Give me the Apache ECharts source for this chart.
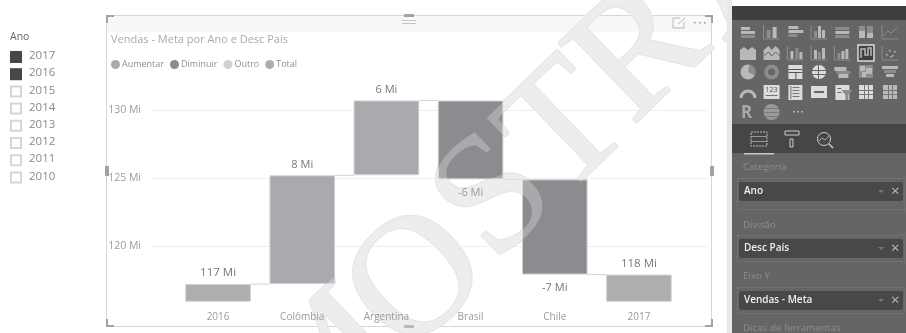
<!DOCTYPE html>
<html>
<head>
<meta charset="utf-8">
<style>html,body{margin:0;padding:0;background:#fff}#c{width:906px;height:333px}</style>
<script src="https://cdn.jsdelivr.net/npm/echarts@6/dist/echarts.min.js"></script>
</head>
<body>
<div id="c"></div>
<script>
// Waterfall data, in millions
const categories = ['2016', 'Colômbia', 'Argentina', 'Brasil', 'Chile', '2017'];
const totals = [117.2, null, null, null, null, 117.9];
const increases = [null, 8.0, 5.5, null, null, null];
const decreases = [null, null, null, 5.8, 7.0, null];
const axisFloor = 115.9;
const legendNames = ['Aumentar', 'Diminuir', 'Outro', 'Total'];
const sliceYears = ['2017', '2016', '2015', '2014', '2013', '2012', '2011', '2010'];
const checkedYears = ['2017', '2016'];
const paneFields = [['Categoria', 'Ano'], ['Divisão', 'Desc País'], ['Eixo Y', 'Vendas - Meta']];

const FONT = '"Open Sans", sans-serif';
const INC = '#a9aaad', DEC = '#8b8c8f', OTHER = '#d0d1d2', TOT = '#adaeb0', EDGE = '#d2d2d2';

// Running levels derived from the steps
const levels = [];
const bases = [];
let running = 0;
categories.forEach((_, i) => {
  if (totals[i] != null) { running = totals[i]; bases.push(axisFloor); }
  else if (increases[i] != null) { bases.push(running); running += increases[i]; }
  else { running -= decreases[i]; bases.push(running); }
  levels.push(running);
});
const toBar = arr => arr.map(v => v == null ? '-' : v);
const totalHeights = totals.map(v => v == null ? '-' : +(v - axisFloor).toFixed(2));
const mi = v => Math.round(v) + ' Mi';

const labelBase = { show: true, fontFamily: FONT, color: '#777', fontSize: 11, distance: 5 };
const itemStyle = c => ({ color: c, borderColor: EDGE, borderWidth: 1 });

const graphics = [];
const rect = (x, y, w, h, fill, z, extra) => graphics.push(Object.assign({
  type: 'rect', shape: { x, y, width: w, height: h }, style: { fill }, z: z, silent: true }, extra || {}));
const text = (x, y, t, size, fill, z, extra) => graphics.push({
  type: 'text', x, y, z: z, silent: true,
  style: Object.assign({ text: t, fontFamily: FONT, fontSize: size, fill, textVerticalAlign: 'middle' }, extra || {}) });
const stroke = (pts, col, z, w) => graphics.push({
  type: 'polyline', z: z, silent: true, shape: { points: pts }, style: { stroke: col, fill: null, lineWidth: w || 1 } });

// Year slicer
text(10, 37, 'Ano', 10.5, '#666', 5);
sliceYears.forEach((y, i) => {
  const cy = 57 + i * 17.2;
  if (checkedYears.includes(y)) rect(10, cy - 6, 12, 12, '#474747', 5);
  else graphics.push({ type: 'rect', z: 5, silent: true, shape: { x: 11, y: cy - 5, width: 10, height: 10 },
    style: { fill: '#fff', stroke: '#d6d6d6', lineWidth: 2 } });
  text(29, cy - 1, y, 11.5, '#8a8a8a', 5);
});

// Visual frame with its header band and handles
rect(107, 16, 605, 16, '#f8f8f8', 0);
graphics.push({ type: 'rect', z: 1, silent: true, shape: { x: 106.5, y: 15.5, width: 605, height: 311 },
  style: { fill: null, stroke: '#d6d6d6', lineWidth: 1 } });
const HANDLE = '#a3a3a3';
rect(106, 15, 8, 2, HANDLE, 6); rect(106, 15, 2, 8, HANDLE, 6);
rect(705, 15, 8, 2, HANDLE, 6); rect(711, 15, 2, 8, HANDLE, 6);
rect(106, 325, 8, 2, HANDLE, 6); rect(106, 319, 2, 8, HANDLE, 6);
rect(705, 325, 8, 2, HANDLE, 6); rect(711, 319, 2, 8, HANDLE, 6);
rect(105, 166, 4, 10, HANDLE, 6); rect(710, 166, 4, 10, HANDLE, 6);
rect(404, 14, 10, 3, HANDLE, 6); rect(404, 325, 10, 3, HANDLE, 6);
rect(402, 20, 14, 1, '#c4c4c4', 6); rect(402, 23, 14, 1, '#c4c4c4', 6);
stroke([[684, 22], [684, 28], [673, 28], [673, 18], [680, 18]], '#b8b8b8', 6);
stroke([[678, 24], [685, 18]], '#b8b8b8', 6);
[694, 699, 704].forEach(x => rect(x, 22, 1.6, 1.6, '#999', 6));

// Diagonal "AMOSTRA" stamp: a pale layer under the bars, thickened with small offset
// copies, and one translucent white copy above them so the dark bars lighten.
const stampLetters = [['M', 328, 375], ['O', 420, 283], ['S', 497, 200], ['T', 568, 132], ['R', 642, 55], ['A', 738, -32]];
const stampOffsets = [[0, 0], [1.4, 0], [-1.4, 0], [0, 1.4], [0, -1.4]];
const stampStyle = (ch, fill) => ({ text: ch, fontFamily: '"Liberation Serif", serif', fontSize: 170, fill,
  textAlign: 'center', textVerticalAlign: 'middle' });
stampLetters.forEach(([ch, x, y]) => {
  stampOffsets.forEach(([dx, dy]) => {
    graphics.push({ type: 'text', x: x + dx, y: y + dy, rotation: 44 * Math.PI / 180, z: 1, silent: true,
      style: stampStyle(ch, '#e7e7e7') });
  });
  graphics.push({ type: 'text', x, y, rotation: 44 * Math.PI / 180, z: 10, silent: true,
    style: stampStyle(ch, 'rgba(255,255,255,0.25)') });
});

// Field pane on the right
const P = 20;
rect(727, 0, 5, 333, '#e8e8e8', P);
rect(732, 0, 174, 333, '#656565', P);
rect(732, 0, 174, 6, '#ffffff', P);
rect(732, 6, 174, 14, '#3f3f3f', P);
rect(732, 124, 174, 29, '#464646', P);
rect(744, 153, 30, 1.5, '#c9c9c9', P + 1);

const cols = [748, 771.6, 795.4, 819, 842.4, 866, 890];
const rows = [32, 53, 72, 92, 112];
const L = '#b9b9b9', M = '#8c8c8c', W = '#dcdcdc';
const icon = (c, r, parts) => parts.forEach(([x, y, w, h, f]) => rect(cols[c] + x, rows[r] + y, w, h, f, P + 1));
const frame = (c, r, col) => { stroke([[cols[c] - 8, rows[r] - 7], [cols[c] - 8, rows[r] + 7], [cols[c] + 8, rows[r] + 7]], col || M, P + 1); };
// Row 1
icon(0, 0, [[-7, -5, 9, 3, L], [-7, -1, 14, 3, L], [-7, 3, 14, 3, M]]);
frame(1, 0); icon(1, 0, [[-5, -2, 4, 8, M], [1, -5, 4, 11, L]]);
icon(2, 0, [[-7, -6, 10, 3, L], [-7, -2, 15, 3, L], [-7, 2, 9, 3, M]]);
frame(3, 0); icon(3, 0, [[-5, -1, 3, 7, M], [-1, -6, 3, 12, L], [3, -2, 3, 8, L]]);
icon(4, 0, [[-7, -5, 14, 3, M], [-7, -1, 14, 3, L], [-7, 3, 14, 3, M]]);
icon(5, 0, [[-7, -6, 6, 12, M], [1, -6, 6, 12, M], [-7, -1, 6, 7, L], [1, 1, 6, 5, L]]);
frame(6, 0); stroke([[cols[6] - 7, rows[0] + 4], [cols[6] - 2, rows[0] - 1], [cols[6] + 1, rows[0] + 1], [cols[6] + 7, rows[0] - 4]], M, P + 1);
// Row 2
graphics.push({ type: 'polygon', z: P + 1, silent: true, shape: { points: [[cols[0] - 8, 60], [cols[0] - 8, 50], [cols[0] - 4, 47], [cols[0], 50], [cols[0] + 4, 47], [cols[0] + 8, 50], [cols[0] + 8, 60]] }, style: { fill: L } });
graphics.push({ type: 'polygon', z: P + 1, silent: true, shape: { points: [[cols[1] - 8, 60], [cols[1] - 8, 50], [cols[1] - 3, 46], [cols[1], 50], [cols[1] + 4, 46], [cols[1] + 8, 50], [cols[1] + 8, 60]] }, style: { fill: L } });
stroke([[cols[1] - 8, 56], [cols[1] - 3, 52], [cols[1], 56], [cols[1] + 4, 52], [cols[1] + 8, 56]], '#656565', P + 1);
frame(2, 1); icon(2, 1, [[-5, -2, 3, 8, L], [0, -5, 3, 11, M], [4, -1, 3, 7, L]]);
frame(3, 1); icon(3, 1, [[-5, -3, 3, 9, L], [-1, -1, 3, 7, M], [3, -5, 3, 11, L]]);
frame(4, 1); icon(4, 1, [[-5, 0, 3, 6, M], [-1, -2, 3, 8, L], [3, -4, 3, 10, L]]);
graphics.push({ type: 'rect', z: P + 1, silent: true, shape: { x: cols[5] - 8, y: rows[1] - 8, width: 16, height: 16 }, style: { fill: '#3f3f3f', stroke: W, lineWidth: 1.5 } });
stroke([[cols[5] - 5, rows[1] + 5], [cols[5] - 5, rows[1] - 4], [cols[5] - 1, rows[1] - 4], [cols[5] - 1, rows[1] + 2], [cols[5] + 2, rows[1] + 2], [cols[5] + 2, rows[1] - 5], [cols[5] + 5, rows[1] - 5], [cols[5] + 5, rows[1] + 3]], L, P + 2, 1.5);
frame(6, 1); [[-4, 1], [-1, -3], [2, 2], [4, -2], [0, 3]].forEach(([x, y]) => rect(cols[6] + x, rows[1] + y, 1.6, 1.6, L, P + 1));
// Row 3
graphics.push({ type: 'circle', z: P + 1, silent: true, shape: { cx: cols[0], cy: rows[2], r: 7.5 }, style: { fill: L } });
graphics.push({ type: 'sector', z: P + 2, silent: true, shape: { cx: cols[0], cy: rows[2], r: 7.5, startAngle: -1.4, endAngle: 0.5 }, style: { fill: M } });
graphics.push({ type: 'circle', z: P + 1, silent: true, shape: { cx: cols[1], cy: rows[2], r: 5.5 }, style: { fill: null, stroke: M, lineWidth: 4 } });
rect(cols[2] - 7, rows[2] - 7, 14, 14, W, P + 1); rect(cols[2] - 7, rows[2], 14, 1, '#555', P + 2); rect(cols[2], rows[2], 1, 7, '#555', P + 2); rect(cols[2] - 7, rows[2] - 3, 14, 1, '#555', P + 2);
graphics.push({ type: 'circle', z: P + 1, silent: true, shape: { cx: cols[3], cy: rows[2], r: 7 }, style: { fill: W } });
rect(cols[3] - 7, rows[2] - 2, 14, 1, '#666', P + 2); rect(cols[3] - 7, rows[2] + 2, 14, 1, '#666', P + 2); rect(cols[3] - 1, rows[2] - 7, 1, 14, '#666', P + 2);
icon(4, 2, [[-8, -5, 12, 4, L], [-6, -1, 14, 3, M], [-4, 2, 10, 4, L]]);
icon(5, 2, [[-7, -7, 14, 13, M], [-6, -6, 5, 5, L], [0, -4, 6, 6, L], [-4, 0, 4, 5, L]]);
icon(6, 2, [[-8, -6, 16, 3, L], [-6, -2, 12, 3, M], [-4, 2, 8, 3, L]]);
// Row 4
graphics.push({ type: 'arc', z: P + 1, silent: true, shape: { cx: cols[0], cy: rows[3] + 6, r: 7, startAngle: Math.PI, endAngle: 0 }, style: { stroke: L, fill: null, lineWidth: 3 } });
rect(cols[1] - 8, rows[3] - 7, 16, 14, W, P + 1); text(cols[1], rows[3] - 2, '123', 7, '#555', P + 2, { textAlign: 'center' }); rect(cols[1] - 6, rows[3] + 3, 12, 1, '#777', P + 2);
rect(cols[2] - 7, rows[3] - 7, 14, 15, W, P + 1); [-5, -2, 1, 4].forEach(d => rect(cols[2] - 3, rows[3] + d, 7, 1, '#777', P + 2)); rect(cols[2] - 5, rows[3] - 6, 1, 13, '#777', P + 2);
rect(cols[3] - 8, rows[3] - 6, 16, 12, W, P + 1); rect(cols[3] - 5, rows[3] - 1, 10, 2, '#666', P + 2);
rect(cols[4] - 7, rows[3] - 7, 14, 15, W, P + 1); rect(cols[4] - 5, rows[3] - 4, 4, 1, '#666', P + 2); rect(cols[4] - 5, rows[3], 4, 1, '#666', P + 2);
graphics.push({ type: 'polygon', z: P + 2, silent: true, shape: { points: [[cols[4] - 1, rows[3] - 2], [cols[4] + 10, rows[3] - 2], [cols[4] + 6, rows[3] + 3], [cols[4] + 6, rows[3] + 8], [cols[4] + 3, rows[3] + 8], [cols[4] + 3, rows[3] + 3]] }, style: { fill: M } });
[5, 6].forEach((c, k) => {
  rect(cols[c] - 7, rows[3] - 7, 14, 14, k ? L : W, P + 1);
  [-2, 2].forEach(d => { rect(cols[c] + d, rows[3] - 7, 1, 14, '#777', P + 2); rect(cols[c] - 7, rows[3] + d, 14, 1, '#777', P + 2); });
});
// Row 5
text(cols[0] - 7, rows[4] + 1, 'R', 17, '#a9a9a9', P + 1, { fontWeight: 'bold' });
graphics.push({ type: 'circle', z: P + 1, silent: true, shape: { cx: cols[1], cy: rows[4], r: 8 }, style: { fill: '#9a9a9a' } });
[-4, 0, 4].forEach(d => rect(cols[1] - 7, rows[4] + d, 14, 1, '#7a7a7a', P + 2));
[0, 4, 8].forEach(d => rect(cols[2] - 2 + d, rows[4] - 1, 1.6, 1.6, '#c4c4c4', P + 1));
// Tab icons
graphics.push({ type: 'rect', z: P + 1, silent: true, shape: { x: 751, y: 132, width: 16, height: 14 }, style: { fill: null, stroke: '#bbb', lineDash: [2, 1] } });
rect(751, 136, 16, 1, '#999', P + 1); rect(751, 141, 16, 1, '#999', P + 1);
graphics.push({ type: 'rect', z: P + 1, silent: true, shape: { x: 785, y: 131, width: 14, height: 4 }, style: { fill: null, stroke: '#ccc' } });
graphics.push({ type: 'rect', z: P + 1, silent: true, shape: { x: 790, y: 139, width: 3, height: 8 }, style: { fill: null, stroke: '#ccc' } });
graphics.push({ type: 'circle', z: P + 1, silent: true, shape: { cx: 824, cy: 139, r: 6.5 }, style: { fill: null, stroke: '#ccc' } });
stroke([[829, 144], [833, 148]], '#ccc', P + 1, 1.5);
stroke([[819, 141], [822, 138], [825, 140], [829, 136]], '#aaa', P + 1);

// Field wells
const WELL_FONT = 9.8;
text(743, 167, 'Categoria', WELL_FONT, '#8d8d8d', P + 1);
paneFields.forEach(([well, field], i) => {
  const top = [182, 239, 291][i];
  if (i) text(743, [0, 225, 276][i], well, WELL_FONT, '#8d8d8d', P + 1);
  graphics.push({ type: 'rect', z: P + 1, silent: true, shape: { x: 737.5, y: top - 3.5, width: 167, height: 26 + (i ? 0 : 5) },
    style: { fill: null, stroke: '#7d7d7d', lineDash: [2, 2] } });
  graphics.push({ type: 'rect', z: P + 2, silent: true, shape: { x: 739, y: top, width: 164, height: 19, r: 2 }, style: { fill: '#484848' } });
  text(744, top + 9.5, field, 10, '#f0f0f0', P + 3, { fontWeight: 600 });
  graphics.push({ type: 'polygon', z: P + 3, silent: true, shape: { points: [[878, top + 8], [884, top + 8], [881, top + 11]] }, style: { fill: '#777' } });
  text(891, top + 9.5, '×', 15, '#bdbdbd', P + 3);
});
text(743, 328, 'Dicas de ferramentas', WELL_FONT, '#8d8d8d', P + 1);

const chart = echarts.init(document.getElementById('c'), null, { renderer: 'canvas' });
chart.setOption({
  animation: false,
  backgroundColor: '#fff',
  title: { text: 'Vendas - Meta por Ano e Desc País', left: 106, top: 29,
    textStyle: { fontFamily: FONT, fontSize: 11, fontWeight: 'normal', color: '#a9a9a9' } },
  legend: { data: legendNames, left: 106, top: 55, icon: 'circle', itemWidth: 9, itemHeight: 9, itemGap: 6,
    selectedMode: false, itemStyle: { borderWidth: 0 },
    textStyle: { fontFamily: FONT, fontSize: 9, color: '#8f8f8f', padding: [0, 0, 0, -3] } },
  grid: [
    { left: 150, width: 558, top: 42, height: 272 },
    { left: 176, width: 505, top: 42, height: 272 }
  ],
  xAxis: [
    { gridIndex: 0, type: 'category', data: categories, show: false },
    { gridIndex: 1, type: 'category', data: categories, z: 12,
      axisLine: { show: false }, axisTick: { show: false },
      axisLabel: { fontFamily: FONT, fontSize: 10, color: '#999', margin: 3, verticalAlign: 'middle', interval: 0 } }
  ],
  yAxis: [
    { gridIndex: 0, type: 'value', min: 115, max: 135, interval: 5,
      axisLine: { show: false }, axisTick: { show: false },
      axisLabel: { fontFamily: FONT, fontSize: 10.5, color: '#9c9c9c', margin: 9, showMinLabel: false, showMaxLabel: false,
        formatter: v => v + ' Mi' },
      splitLine: { lineStyle: { color: '#eeeeee', width: 1 }, showMinLine: false, showMaxLine: false } },
    { gridIndex: 1, type: 'value', min: 115, max: 135, interval: 5, show: false, splitLine: { show: false } }
  ],
  series: [
    { name: 'base', type: 'bar', stack: 'w', xAxisIndex: 1, yAxisIndex: 1, barWidth: '78%',
      data: bases, itemStyle: { color: 'transparent' }, silent: true },
    { name: 'Aumentar', type: 'bar', stack: 'w', xAxisIndex: 1, yAxisIndex: 1, barWidth: '78%',
      data: toBar(increases), itemStyle: itemStyle(INC),
      label: Object.assign({}, labelBase, { position: 'top', formatter: p => mi(increases[p.dataIndex]) }) },
    { name: 'Diminuir', type: 'bar', stack: 'w', xAxisIndex: 1, yAxisIndex: 1, barWidth: '78%',
      data: toBar(decreases), itemStyle: itemStyle(DEC),
      label: Object.assign({}, labelBase, { position: 'bottom', distance: 8, formatter: p => mi(-decreases[p.dataIndex]) }) },
    { name: 'Outro', type: 'bar', stack: 'w', xAxisIndex: 1, yAxisIndex: 1, barWidth: '78%',
      data: [], itemStyle: { color: OTHER } },
    { name: 'Total', type: 'bar', stack: 'w', xAxisIndex: 1, yAxisIndex: 1, barWidth: '78%',
      data: totalHeights, itemStyle: itemStyle(TOT),
      label: Object.assign({}, labelBase, { position: 'top', fontSize: 11.5, formatter: p => mi(totals[p.dataIndex]) }) },
    { name: 'connectors', type: 'custom', xAxisIndex: 1, yAxisIndex: 1, silent: true, z: 1,
      data: levels.slice(0, -1).map((v, i) => [i, v]),
      renderItem: (params, api) => {
        const p = api.coord([api.value(0), api.value(1)]);
        const band = api.size([1, 0])[0];
        return { type: 'line', shape: { x1: p[0] + band * 0.39, y1: p[1], x2: p[0] + band * 0.61, y2: p[1] },
          style: { stroke: EDGE, lineWidth: 1 } };
      } }
  ],
  graphic: { elements: graphics }
});
</script>
</body>
</html>
